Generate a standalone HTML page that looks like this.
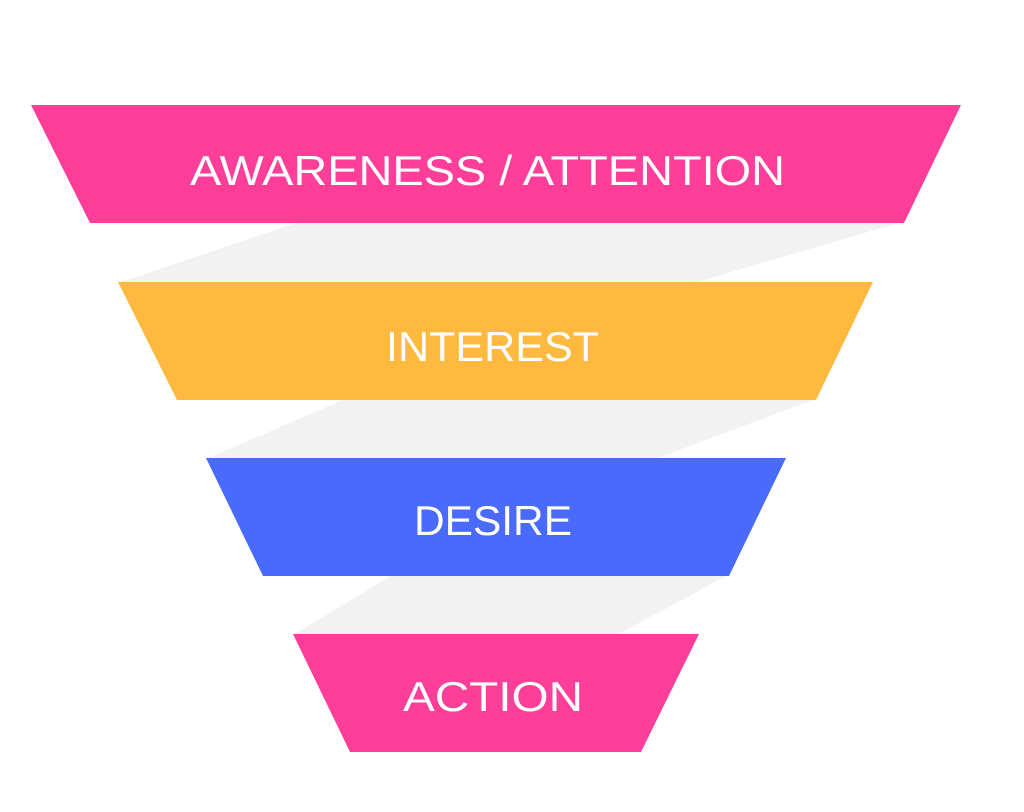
<!DOCTYPE html>
<html><head><meta charset="utf-8"><style>
html,body{margin:0;padding:0;background:#fff;}
svg{display:block;}
text{font-family:"Liberation Sans",sans-serif;fill:#fff;font-size:42px;}
</style></head><body>
<svg width="1024" height="812" viewBox="0 0 1024 812">
<rect width="1024" height="812" fill="#fff"/>
<polygon points="299,222 902,222 694,283 118,283" fill="#f2f2f2"/>
<polygon points="345,399 816,399 655,459 206,459" fill="#f2f2f2"/>
<polygon points="392,575 728,575 617,635 293,635" fill="#f2f2f2"/>
<polygon points="31,105 961,105 904,223 90,223" fill="#ff3e9a"/>
<polygon points="118,282 873,282 816,400 177,400" fill="#ffb93f"/>
<polygon points="206,458 786,458 729,576 263,576" fill="#4a6afc"/>
<polygon points="293,634 699,634 641,752 350,752" fill="#ff3e9a"/>
<text x="190" y="185" textLength="595" lengthAdjust="spacingAndGlyphs">AWARENESS / ATTENTION</text>
<text x="386" y="361" textLength="213" lengthAdjust="spacingAndGlyphs">INTEREST</text>
<text x="414" y="535" textLength="158" lengthAdjust="spacingAndGlyphs">DESIRE</text>
<text x="403" y="711" textLength="180" lengthAdjust="spacingAndGlyphs">ACTION</text>
</svg>
</body></html>
